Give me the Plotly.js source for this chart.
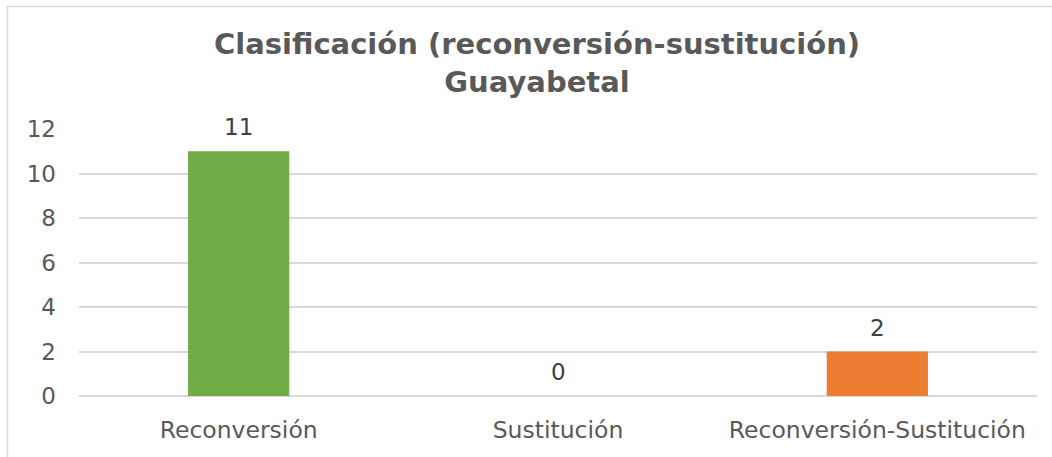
<!DOCTYPE html>
<html>
<head>
<meta charset="utf-8">
<script src="https://cdn.plot.ly/plotly-3.0.1.min.js"></script>
<style>
html,body{margin:0;padding:0;background:#fff;}
#chart{width:1052px;height:457px;}
</style>
</head>
<body>
<div id="chart"></div>
<script>
const categories = ["Reconversión", "Sustitución", "Reconversión-Sustitución"];
const values = [11, 0, 2];
const barColors = ["#70AD47", "#70AD47", "#ED7D31"];
const yTicks = [0, 2, 4, 6, 8, 10, 12];

const font = "DejaVu Sans, Verdana, sans-serif";

const trace = {
  type: "bar",
  x: categories,
  y: values,
  marker: {color: barColors},
  width: 0.317,
  hoverinfo: "x+y"
};

const annotations = categories.map((c, i) => ({
  x: c, y: values[i], xref: "x", yref: "y",
  text: String(values[i]), showarrow: false,
  yanchor: "bottom", yshift: 9,
  font: {family: font, size: 23, color: "#404040"}
}));

const L = 79, R = 15, T = 129, B = 61;
const pw = 1052 - L - R, ph = 457 - T - B;

const layout = {
  width: 1052, height: 457,
  margin: {l: L, r: R, t: T, b: B, pad: 0},
  paper_bgcolor: "#ffffff", plot_bgcolor: "#ffffff",
  showlegend: false,
  title: {
    text: "<b>Clasificación (reconversión-sustitución)<br>Guayabetal</b>",
    font: {family: font, size: 29, color: "#595959"},
    x: 537/1052, xanchor: "center", xref: "container",
    y: 1 - 54/457, yanchor: "top", yref: "container"
  },
  xaxis: {
    type: "category",
    showgrid: false, zeroline: false, showline: false,
    ticks: "", ticklabelstandoff: 17,
    tickfont: {family: font, size: 23.5, color: "#595959"}
  },
  yaxis: {
    range: [0, 12], tickvals: yTicks, ticktext: yTicks.map(String),
    showgrid: true, gridcolor: "#d9d9d9", gridwidth: 1.5,
    zeroline: true, zerolinecolor: "#d9d9d9", zerolinewidth: 1.5,
    showline: false, ticks: "", ticklabelstandoff: 22,
    tickfont: {family: font, size: 23, color: "#595959"}
  },
  annotations: annotations,
  shapes: [{
    type: "rect", xref: "paper", yref: "paper",
    x0: (7.5 - L) / pw, x1: (1060 - L) / pw,
    y0: (457 - B - 470) / ph, y1: (457 - B - 6.5) / ph,
    line: {color: "#d9d9d9", width: 1.5}, fillcolor: "rgba(0,0,0,0)", layer: "below"
  }]
};

Plotly.newPlot("chart", [trace], layout, {displayModeBar: false, responsive: false});
</script>
</body>
</html>
